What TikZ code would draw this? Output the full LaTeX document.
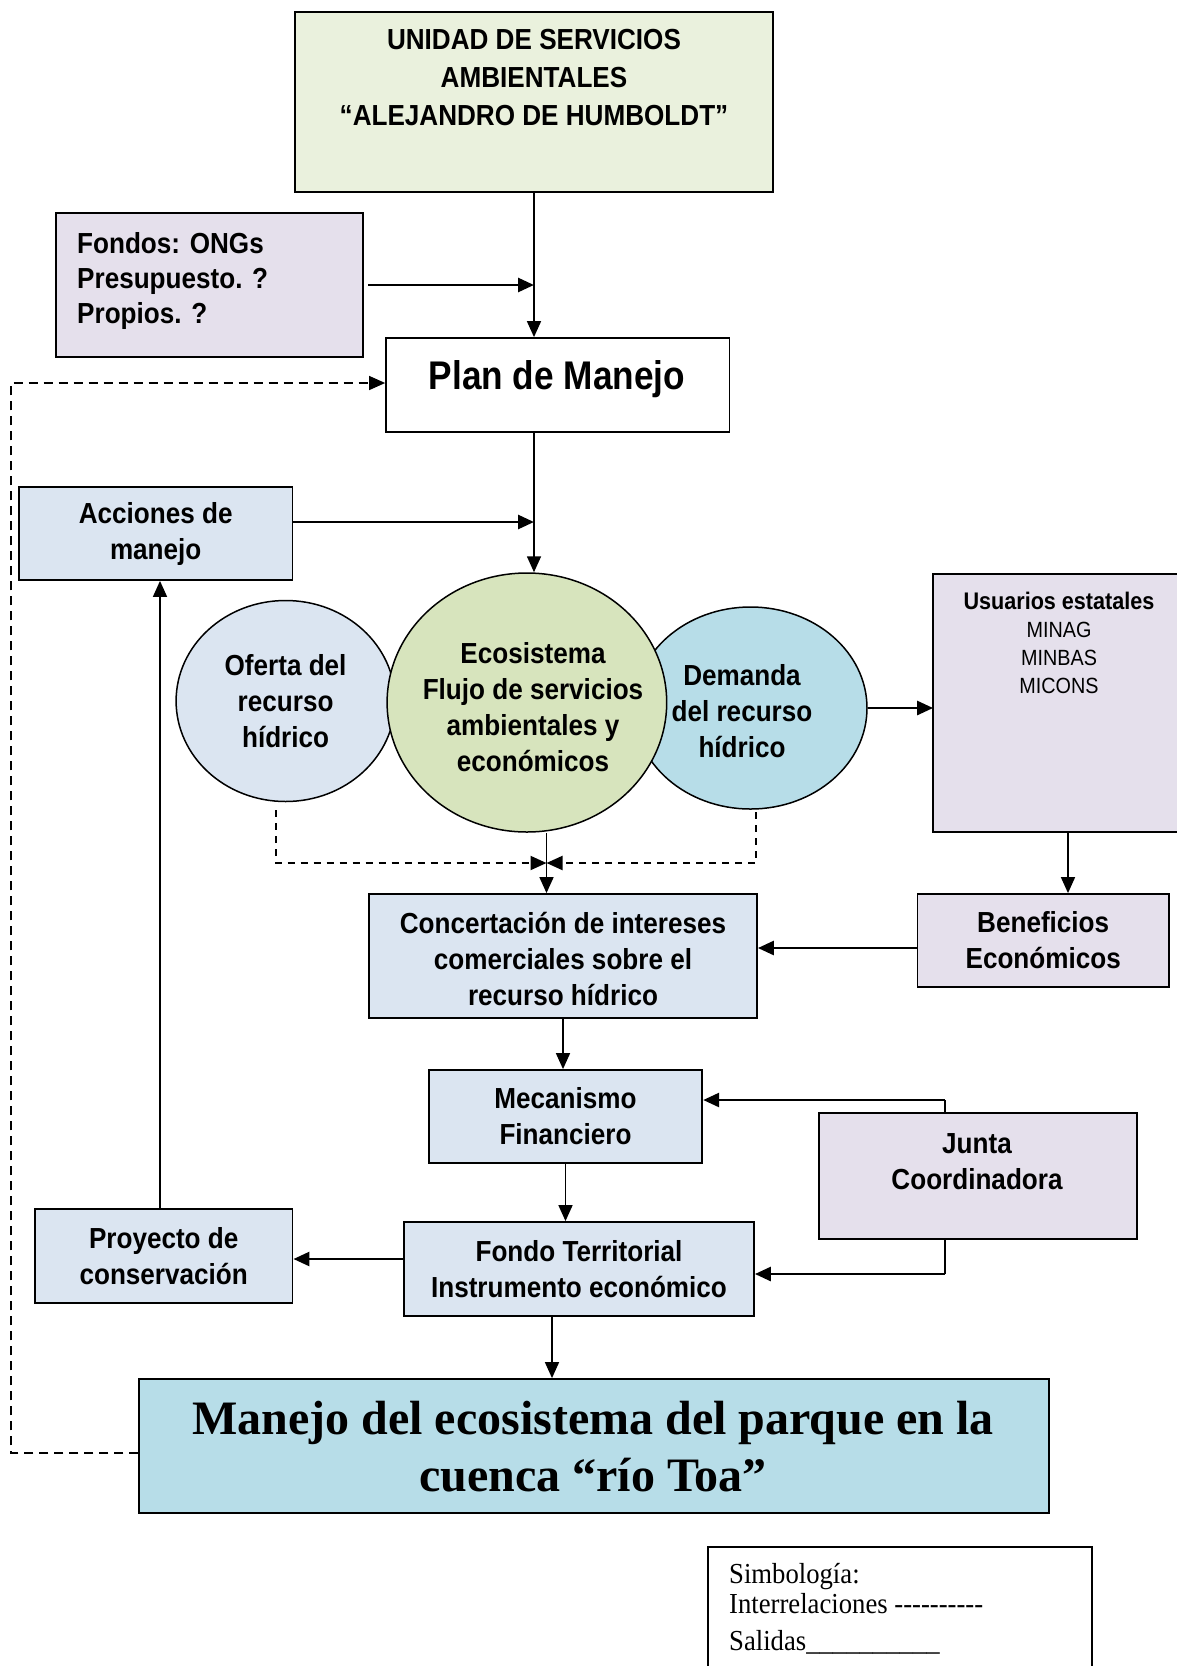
\documentclass[tikz,border=0pt]{standalone}
\usepackage{fontspec}
\setmainfont{Liberation Serif}
\newfontfamily\narrowsans[FakeStretch=0.9]{Liberation Sans}
\newfontfamily\titlesans[FakeStretch=0.88]{Liberation Sans}
\newfontfamily\legendserif[FakeStretch=0.92]{Liberation Serif}
\usetikzlibrary{arrows.meta,shapes.geometric}

\definecolor{paleolive}{HTML}{EAF1DD}
\definecolor{lilac}{HTML}{E5E0EC}
\definecolor{paleblue}{HTML}{DBE5F1}
\definecolor{olive}{HTML}{D7E4BD}
\definecolor{aqua}{HTML}{B7DDE8}

\newcommand{\bodyfont}{\narrowsans\bfseries\fontsize{29}{36}\selectfont}
\newcommand{\tendashes}{-{}-{}-{}-{}-{}-{}-{}-{}-{}-}

\begin{document}
\begin{tikzpicture}[x=1pt,y=-1pt,
  box/.style={draw, line width=1.8pt, rectangle, inner sep=0pt, align=center, font=\bodyfont},
  oval/.style={draw, line width=1.5pt, ellipse, inner sep=0pt, align=center, font=\bodyfont},
  txt/.style={inner sep=0pt, align=center, font=\bodyfont},
  tip/.style={-{Triangle[length=16pt,width=14pt]}},
  link/.style={line width=1.6pt, tip},
  boldlink/.style={line width=2.7pt, tip},
  dashlink/.style={line width=2pt, dash pattern=on 7pt off 6pt, tip},
  looplink/.style={line width=1.3pt, dash pattern=on 9pt off 6pt, tip},
  plainline/.style={line width=1.6pt}]

\useasboundingbox (0,0) rectangle (1177,1666);

% ---------- boxes ----------
\node[box, fill=paleolive, minimum width=477.5pt, minimum height=180pt] (unidad) at (534,102) {};
\node[txt, font=\narrowsans\bfseries\fontsize{29}{38}\selectfont] (unidadtxt) at (534,78)
  {UNIDAD DE SERVICIOS\\AMBIENTALES\\“ALEJANDRO DE HUMBOLDT”};

\node[box, fill=lilac, minimum width=307.5pt, minimum height=144pt] (fondos) at (209.5,285) {};
\node[txt, align=left, anchor=west, font=\narrowsans\bfseries\fontsize{29}{35}\selectfont] (fondostxt) at (77,281)
  {Fondos: ONGs\\Presupuesto. ?\\Propios. ?};

\node[box, fill=white, minimum width=343.5pt, minimum height=94pt] (plan) at (557.8,385) {};
\node[txt, anchor=base, font=\titlesans\bfseries\fontsize{40}{48}\selectfont] (plantxt) at (557,389) {Plan de Manejo};

\node[box, fill=paleblue, minimum width=273.6pt, minimum height=93pt] (acciones) at (155.7,533.5) {Acciones de\\manejo};

% ---------- ellipses ----------
\node[oval, fill=paleblue, minimum width=219pt, minimum height=201pt] (oferta) at (285.6,701) {Oferta del\\recurso\\hídrico};
\node[oval, fill=aqua, minimum width=233pt, minimum height=202pt] (demanda) at (750.5,708) {};
\node[oval, fill=olive, minimum width=279.6pt, minimum height=259pt] (ecosistema) at (526.9,702.5) {};
\node[txt] (ecotxt) at (533,707) {Ecosistema\\Flujo de servicios\\ambientales y\\económicos};
\node[txt] (demandatxt) at (742,711) {Demanda\\del recurso\\hídrico};

% ---------- users box, open to the right ----------
\node[draw=none, fill=lilac, inner sep=0pt, minimum width=243.7pt, minimum height=258pt] (usuarios) at (1055.15,703) {};
\draw[line width=1.8pt] (usuarios.north east) -- (usuarios.north west) -- (usuarios.south west) -- (usuarios.south east);
\node[txt, font=\narrowsans\fontsize{22}{28}\selectfont] (usuariostxt) at (1059,643)
  {{\bfseries\fontsize{24}{28}\selectfont Usuarios estatales}\\MINAG\\MINBAS\\MICONS};

\node[box, fill=lilac, minimum width=251.6pt, minimum height=93pt] (beneficios) at (1043.2,940.5) {Beneficios\\Económicos};
\node[box, fill=paleblue, minimum width=388pt, minimum height=124pt] (concertacion) at (563,956) {};
\node[txt] (concertaciontxt) at (563,959) {Concertación de intereses\\comerciales sobre el\\recurso hídrico};
\node[box, fill=paleblue, minimum width=273.6pt, minimum height=93pt] (mecanismo) at (565.5,1116.5) {Mecanismo\\Financiero};
\node[box, fill=lilac, minimum width=318pt, minimum height=126pt] (junta) at (978,1176) {};
\node[txt] (juntatxt) at (977,1162) {Junta\\Coordinadora};
\node[box, fill=paleblue, minimum width=350pt, minimum height=94pt] (fondo) at (579,1269) {Fondo Territorial\\Instrumento económico};
\node[box, fill=paleblue, minimum width=257.7pt, minimum height=94pt] (proyecto) at (163.7,1256) {Proyecto de\\conservación};
\node[box, fill=aqua, minimum width=909.4pt, minimum height=134pt] (manejo) at (594,1446) {};
\node[txt, font=\bfseries\fontsize{48}{57}\selectfont] (manejotxt) at (593,1447)
  {Manejo del ecosistema del parque en la\\cuenca “río Toa”};

% ---------- legend, open at the bottom ----------
\node[draw=none, fill=white, inner sep=0pt, minimum width=384pt, minimum height=119pt] (legend) at (900,1606.5) {};
\draw[line width=1.8pt] (legend.south west) -- (legend.north west) -- (legend.north east) -- (legend.south east);
\node[inner sep=0pt, anchor=base west, font=\legendserif\fontsize{29}{34}\selectfont] (leg1) at (729,1583) {Simbología:};
\node[inner sep=0pt, anchor=base west, font=\legendserif\fontsize{29}{34}\selectfont] (leg2) at (729,1613) {Interrelaciones \tendashes};
\node[inner sep=0pt, anchor=base west, font=\legendserif\fontsize{29}{34}\selectfont] (leg3) at (729,1650) {Salidas\_\_\_\_\_\_\_\_\_\_};

% ---------- helper coordinates ----------
\coordinate (fj) at (fondos.east -| unidad.south);
\coordinate (ya) at (0,522);
\coordinate (xu) at (1068,0);
\coordinate (yb) at (0,948);
\coordinate (xe) at (546.5,0);
\coordinate (od) at (275.6,810);
\coordinate (dd) at (756,812);
\coordinate (yd) at (0,863);
\coordinate (xj) at (945,0);
\coordinate (ym) at (0,1100);
\coordinate (yf) at (0,1274);
\coordinate (yp) at (0,1259);
\coordinate (xp) at (160,0);
\coordinate (xm) at (552,0);
\coordinate (yl) at (0,1453);
\coordinate (xl) at (11,0);
\coordinate (yq) at (0,383);

% ---------- connectors ----------
\draw[link] (unidad.south) -- (unidad.south |- plan.north);
\draw[boldlink] ([xshift=4pt]fondos.east) -- (fj);
\draw[link] (plan.south -| unidad.south) -- (ecosistema.north -| unidad.south);
\draw[boldlink] (acciones.east |- ya) -- (unidad.south |- ya);
\draw[boldlink] (demanda.east) -- (demanda.east -| usuarios.west);
\draw[link] (xu |- usuarios.south) -- (xu |- beneficios.north);
\draw[boldlink] (beneficios.west |- yb) -- (concertacion.east |- yb);
\draw[link] (xe |- ecosistema.south) -- (xe |- concertacion.north);
\draw[dashlink] (od) -- (od |- yd) -- (xe |- yd);
\draw[dashlink] (dd) -- (dd |- yd) -- (xe |- yd);
\draw[link] (concertacion.south) -- (concertacion.south |- mecanismo.north);
\draw[plainline] (xj |- junta.north) -- (xj |- ym);
\draw[boldlink] (xj |- ym) -- (mecanismo.east |- ym);
\draw[link] (mecanismo.south) -- (mecanismo.south |- fondo.north);
\draw[plainline] (xj |- junta.south) -- (xj |- yf);
\draw[boldlink] (xj |- yf) -- (fondo.east |- yf);
\draw[boldlink] (fondo.west |- yp) -- (proyecto.east |- yp);
\draw[link] (xp |- proyecto.north) -- (xp |- acciones.south);
\draw[link] (xm |- fondo.south) -- (xm |- manejo.north);
\draw[looplink] (manejo.west |- yl) -- (xl |- yl) -- (xl |- yq) -- (plan.west |- yq);

\end{tikzpicture}
\end{document}
